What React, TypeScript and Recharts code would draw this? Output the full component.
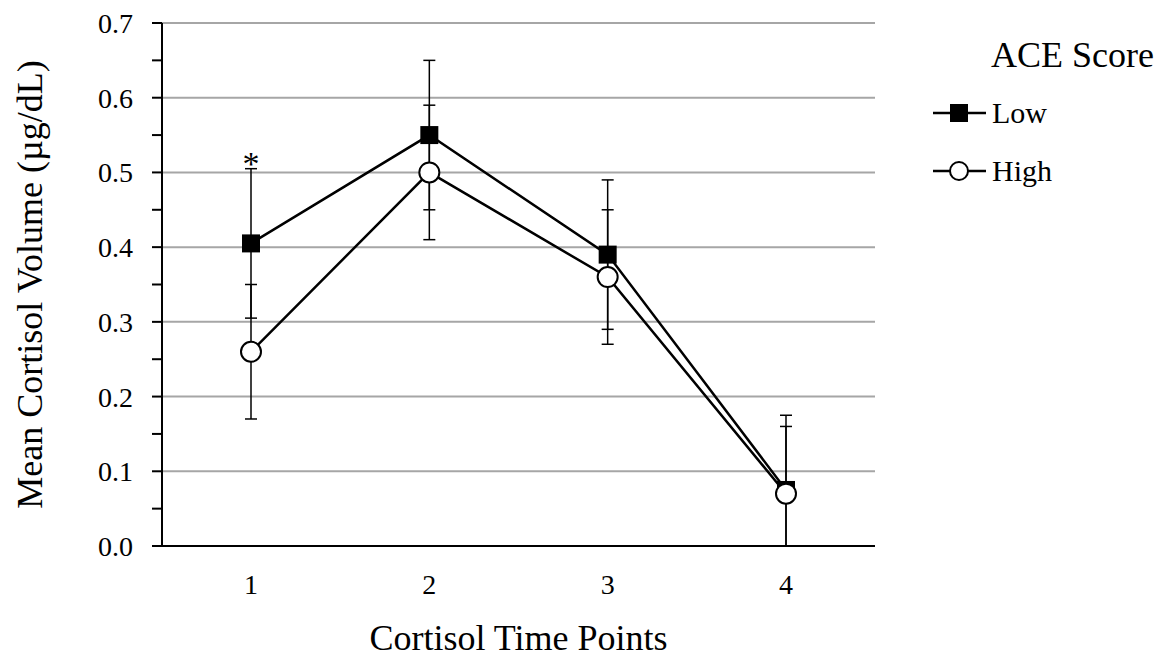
import React from 'react';
import { LineChart, Line, XAxis, YAxis, CartesianGrid, ErrorBar, LabelList } from 'recharts';

const categories = ['1', '2', '3', '4'];
const lowMeans = [0.405, 0.55, 0.39, 0.075];
const highMeans = [0.26, 0.5, 0.36, 0.07];
const lowErrors: [number, number][] = [[0.1, 0.1], [0.1, 0.1], [0.1, 0.1], [0.075, 0.1]];
const highErrors: [number, number][] = [[0.09, 0.09], [0.09, 0.09], [0.09, 0.09], [0.07, 0.09]];
const significance = ['*', '', '', ''];
const yTicks = [0, 0.05, 0.1, 0.15, 0.2, 0.25, 0.3, 0.35, 0.4, 0.45, 0.5, 0.55, 0.6, 0.65, 0.7];
const gridValues = [0.1, 0.2, 0.3, 0.4, 0.5, 0.6, 0.7];
const seriesNames = ['Low', 'High'];
const legendTitle = 'ACE Score';

const FONT = "'Liberation Serif', 'Times New Roman', serif";

const data = categories.map((c, i) => ({
  cat: c,
  low: lowMeans[i],
  high: highMeans[i],
  lowErr: lowErrors[i],
  highErr: highErrors[i],
  sig: significance[i],
}));

const SquareDot = (props: any) => {
  const { cx, cy, index } = props;
  if (cx == null || cy == null) return null;
  return <rect key={`sq-${index}`} x={cx - 9} y={cy - 9} width={18} height={18} fill="#000" />;
};

const StarLabel = (props: any) => {
  const { x, y, value, index } = props;
  if (!value) return null;
  return (
    <text key={`star-${index}`} x={x} y={y - 68} textAnchor="middle" fontSize={34} fontFamily={FONT} fill="#000">
      {value}
    </text>
  );
};

const Legend = () => {
  const rows = [113, 171];
  return (
    <svg width={1163} height={660} style={{ position: 'absolute', left: 0, top: 0, pointerEvents: 'none' }}>
      <text x={991} y={67} fontSize={36} fontFamily={FONT} fill="#000">{legendTitle}</text>
      {seriesNames.map((name, i) => (
        <g key={name}>
          <line x1={933} x2={986} y1={rows[i]} y2={rows[i]} stroke="#000" strokeWidth={2.5} />
          {i === 0 ? (
            <rect x={950} y={rows[i] - 9} width={18} height={18} fill="#000" />
          ) : (
            <circle cx={959} cy={rows[i]} r={9} fill="#fff" stroke="#000" strokeWidth={2} />
          )}
          <text x={992} y={rows[i] + 10} fontSize={30} fontFamily={FONT} fill="#000">{name}</text>
        </g>
      ))}
    </svg>
  );
};

export default function App() {
  return (
    <div style={{ position: 'absolute', left: 0, top: 0, width: 1163, height: 660, background: '#fff' }}>
      <LineChart width={1163} height={660} data={data} margin={{ top: 23, right: 288, bottom: 0, left: 0 }}>
        <CartesianGrid vertical={false} horizontalValues={gridValues} stroke="#a6a6a6" strokeWidth={2} />
        <XAxis
          dataKey="cat"
          tickLine={false}
          axisLine={{ stroke: '#000', strokeWidth: 2 }}
          tickSize={0}
          tickMargin={28}
          height={114}
          padding={{ left: 89, right: 89 }}
          tick={{ fontSize: 28, fill: '#000', fontFamily: FONT }}
          label={{ value: 'Cortisol Time Points', position: 'insideBottom', offset: 10, fontSize: 36, fill: '#000', fontFamily: FONT }}
        />
        <YAxis
          type="number"
          domain={[0, 0.7]}
          ticks={yTicks}
          interval={0}
          allowDataOverflow
          width={162}
          tickSize={10}
          tickMargin={19}
          axisLine={{ stroke: '#000', strokeWidth: 2 }}
          tickLine={{ stroke: '#000', strokeWidth: 2 }}
          tick={{ fontSize: 28, fill: '#000', fontFamily: FONT }}
          tickFormatter={(v: number) => (Math.round(v * 100) % 10 === 0 ? v.toFixed(1) : '')}
          label={{ value: 'Mean Cortisol Volume (µg/dL)', angle: -90, position: 'insideLeft', offset: 29, fontSize: 36, fill: '#000', fontFamily: FONT, style: { textAnchor: 'middle' } }}
        />
        <Line
          dataKey="low"
          stroke="#000"
          strokeWidth={2.5}
          dot={SquareDot}
          activeDot={false}
          isAnimationActive={false}
        >
          <ErrorBar dataKey="lowErr" direction="y" width={6} stroke="#000" strokeWidth={1.5} isAnimationActive={false} />
          <LabelList dataKey="sig" content={StarLabel} />
        </Line>
        <Line
          dataKey="high"
          stroke="#000"
          strokeWidth={2.5}
          dot={{ r: 10, fill: '#fff', stroke: '#000', strokeWidth: 2 }}
          activeDot={false}
          isAnimationActive={false}
        >
          <ErrorBar dataKey="highErr" direction="y" width={6} stroke="#000" strokeWidth={1.5} isAnimationActive={false} />
        </Line>
      </LineChart>
      <Legend />
    </div>
  );
}
